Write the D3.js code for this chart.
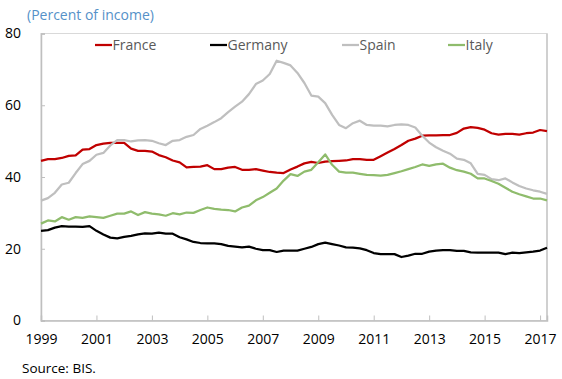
<!DOCTYPE html>
<html>
<head>
<meta charset="utf-8">
<script src="https://cdn.jsdelivr.net/npm/d3@7"></script>
<style>
  html, body { margin: 0; padding: 0; background: #fff; }
  svg { display: block; font-family: "Segoe UI", "Open Sans", sans-serif; }
</style>
</head>
<body>
<svg id="chart" width="562" height="379"></svg>
<script>
// Household debt service ratios, quarterly, 1999Q1 – 2017Q2 (percent of income)
const startYear = 1999;
const yearTicks = [1999, 2001, 2003, 2005, 2007, 2009, 2011, 2013, 2015, 2017];
const valueTicks = [0, 20, 40, 60, 80];

const france = [
  44.5, 45.0, 45.0, 45.3, 45.9, 46.0, 47.6, 47.8, 48.9, 49.3,
  49.5, 49.5, 49.5, 47.9, 47.3, 47.3, 47.1, 46.1, 45.5, 44.6,
  44.1, 42.7, 42.8, 42.9, 43.3, 42.2, 42.2, 42.6, 42.8, 42.0,
  42.0, 42.2, 41.8, 41.4, 41.2, 41.1, 42.1, 42.9, 43.8, 44.2,
  43.9, 44.3, 44.4, 44.5, 44.6, 45.0, 45.0, 44.8, 44.8, 45.8,
  46.8, 47.8, 48.9, 50.1, 50.7, 51.5, 51.6, 51.6, 51.7, 51.7,
  52.3, 53.5, 53.9, 53.7, 53.2, 52.2, 51.8, 52.0, 52.0, 51.8,
  52.2, 52.4, 53.1, 52.8
];
const germany = [
  25.0, 25.2, 25.9, 26.3, 26.2, 26.2, 26.1, 26.3, 25.0, 24.0,
  23.1, 22.9, 23.3, 23.6, 24.0, 24.3, 24.2, 24.5, 24.2, 24.2,
  23.2, 22.6, 21.9, 21.6, 21.5, 21.5, 21.3, 20.8, 20.6, 20.4,
  20.6, 20.0, 19.6, 19.6, 19.1, 19.5, 19.5, 19.5, 20.0, 20.5,
  21.3, 21.7, 21.3, 20.9, 20.4, 20.3, 20.1, 19.6, 18.8, 18.5,
  18.5, 18.5, 17.7, 18.1, 18.6, 18.6, 19.2, 19.5, 19.6, 19.6,
  19.4, 19.4, 19.0, 18.9, 18.9, 18.9, 18.9, 18.5, 18.9, 18.8,
  19.0, 19.2, 19.5, 20.3
];
const spain = [
  33.4, 34.1, 35.6, 37.9, 38.4, 41.1, 43.6, 44.5, 46.2, 46.7,
  48.8, 50.3, 50.3, 49.9, 50.2, 50.3, 50.1, 49.4, 48.9, 50.1,
  50.3, 51.2, 51.7, 53.4, 54.3, 55.3, 56.4, 58.1, 59.6, 61.0,
  63.1, 65.9, 66.9, 68.7, 72.4, 71.8, 71.1, 69.0, 66.2, 62.7,
  62.4, 60.6, 57.3, 54.5, 53.6, 55.0, 55.7, 54.5, 54.3, 54.3,
  54.1, 54.5, 54.7, 54.5, 53.8, 51.5, 49.6, 48.3, 47.3, 46.5,
  45.1, 44.8, 43.8, 40.9, 40.6, 39.4, 39.1, 39.6, 38.5, 37.5,
  36.8, 36.3, 35.9, 35.3
];
const italy = [
  27.0, 27.9, 27.6, 28.8, 28.1, 28.8, 28.6, 29.0, 28.8, 28.6,
  29.2, 29.8, 29.8, 30.4, 29.4, 30.2, 29.8, 29.6, 29.2, 29.9,
  29.6, 30.1, 30.0, 30.8, 31.5, 31.1, 30.9, 30.8, 30.4, 31.5,
  32.0, 33.5, 34.4, 35.6, 36.8, 39.0, 40.8, 40.3, 41.5, 42.0,
  44.1, 46.3, 43.4, 41.5, 41.2, 41.2, 40.9, 40.6, 40.5, 40.4,
  40.6, 41.1, 41.6, 42.2, 42.8, 43.5, 43.1, 43.5, 43.7, 42.6,
  41.9, 41.5, 40.9, 39.6, 39.6, 38.9, 38.1, 37.0, 35.9, 35.2,
  34.6, 34.0, 34.0, 33.5
];

const seriesNames = ["France", "Germany", "Spain", "Italy"];
const seriesValues = [france, germany, spain, italy];
const seriesColors = ["#c00000", "#000000", "#bfbfbf", "#8fbc6c"];

const svg = d3.select("#chart");
const plotLeft = 41, plotRight = 547, plotTop = 33.5, plotBottom = 320.5;

const x = d3.scaleLinear()
  .domain([startYear, startYear + (france.length - 1) / 4])
  .range([plotLeft, plotRight]);
const y = d3.scaleLinear().domain([0, 80]).range([plotBottom, plotTop]);

// subtitle
svg.append("text")
  .attr("x", 27).attr("y", 19.5)
  .attr("fill", "#5591c8")
  .attr("font-size", 14)
  .text("(Percent of income)");

// plot frame
svg.append("rect")
  .attr("x", plotLeft).attr("y", plotTop)
  .attr("width", plotRight - plotLeft).attr("height", plotBottom - plotTop)
  .attr("fill", "none").attr("stroke", "#d9d9d9").attr("stroke-width", 1);
svg.append("line")
  .attr("x1", plotRight).attr("x2", plotRight).attr("y1", plotTop).attr("y2", plotBottom)
  .attr("stroke", "#d0d0d0").attr("stroke-width", 2);

// y axis: inward ticks on the left edge
const yAxis = d3.axisLeft(y).tickValues(valueTicks).tickSize(-4).tickPadding(20);
const gy = svg.append("g").attr("transform", `translate(${plotLeft},0)`).call(yAxis);
gy.select(".domain").attr("stroke", "#bfbfbf").attr("stroke-width", 1.5);
gy.selectAll(".tick line").attr("stroke", "#bfbfbf");
gy.selectAll(".tick text")
  .attr("font-size", 14).attr("fill", "#000")
  .attr("font-family", "'Segoe UI', 'Open Sans', sans-serif");

// x axis: inward ticks on the bottom edge
const xAxis = d3.axisBottom(x).tickValues(yearTicks).tickFormat(d3.format("d"))
  .tickSize(-5).tickPadding(14);
const gx = svg.append("g").attr("transform", `translate(0,${plotBottom})`).call(xAxis);
gx.select(".domain").attr("stroke", "#bfbfbf").attr("stroke-width", 1.5);
gx.selectAll(".tick line").attr("stroke", "#bfbfbf");
gx.selectAll(".tick text")
  .attr("font-size", 14).attr("fill", "#000")
  .attr("font-family", "'Segoe UI', 'Open Sans', sans-serif");

// series lines
const line = d3.line()
  .x((d, i) => x(startYear + i / 4))
  .y(d => y(d));

svg.append("g").selectAll("path")
  .data(seriesValues)
  .join("path")
  .attr("d", line)
  .attr("fill", "none")
  .attr("stroke", (d, i) => seriesColors[i])
  .attr("stroke-width", 2.25)
  .attr("stroke-linejoin", "round");

// legend
const legendX = [95, 210, 342, 448];
const legend = svg.append("g").selectAll("g")
  .data(seriesNames)
  .join("g")
  .attr("transform", (d, i) => `translate(${legendX[i]},45)`);
legend.append("line")
  .attr("x1", 0).attr("x2", 17)
  .attr("stroke", (d, i) => seriesColors[i])
  .attr("stroke-width", 2.25);
legend.append("text")
  .attr("x", 17.5).attr("y", 5)
  .attr("font-size", 14).attr("fill", "#595959")
  .text(d => d);

// source note
svg.append("text")
  .attr("x", 22).attr("y", 373)
  .attr("font-size", 13.5).attr("fill", "#000")
  .text("Source: BIS.");
</script>
</body>
</html>
